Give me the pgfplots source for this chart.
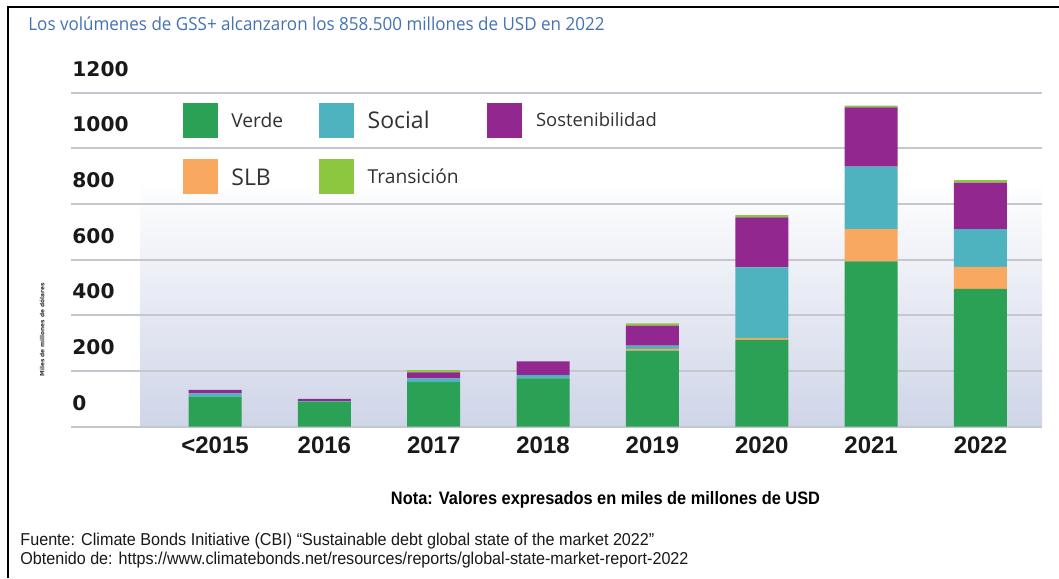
\documentclass[border=0pt]{standalone}
\usepackage{fontspec}
\setmainfont{Open Sans}
\newfontfamily\dejavu{DejaVu Sans}
\newfontfamily\lib{Liberation Sans}
\usepackage{pgfplots}
\pgfplotsset{compat=1.18}
\usepackage{pgfplotstable}
\definecolor{cverde}{RGB}{42,161,85}
\definecolor{csocial}{RGB}{79,179,191}
\definecolor{csost}{RGB}{146,39,143}
\definecolor{cslb}{RGB}{249,168,96}
\definecolor{ctrans}{RGB}{141,198,63}
\definecolor{cgrid}{RGB}{198,198,206}
\definecolor{cbg}{RGB}{207,213,232}
\definecolor{ctitle}{RGB}{68,114,180}
\definecolor{ctext}{RGB}{50,50,50}

\pgfplotstableread{
x verde slb social sost trans
0 108 0 12 12 0
1 90 0 2 8 0
2 160 0 14 21 8
3 174 0 11 50 0
4 273 7 11 72 8
5 312 6 254 180 8
6 594 116 224 213 7
7 495 79 136 167 9
}\datatable

\begin{document}
\begin{tikzpicture}
\useasboundingbox (0,0) rectangle (529.5pt,-289pt);
\fill[white] (0,0) rectangle (529.5pt,-289pt);
\shade[top color=white, bottom color=cbg] (70pt,-90pt) rectangle (521pt,-213.35pt);
\begin{axis}[
  at={(35.35pt,-213.35pt)}, anchor=south west,
  scale only axis, width=485.5pt, height=167pt,
  xmin=-1.32, xmax=7.56, ymin=0, ymax=1200,
  ybar stacked, bar width=26.5pt,
  ytick={0,200,...,1200},
  xtick={0,...,7},
  xticklabels={{<2015},2016,2017,2018,2019,2020,2021,2022},
  axis line style={draw=none},
  major tick length=0pt,
  ymajorgrids, grid style={cgrid, line width=1pt},
  /pgf/number format/assume math mode=true,
  /pgf/number format/1000 sep={},
  scaled y ticks=false,
  yticklabel style={font=\dejavu\bfseries\fontsize{10.1}{12}\selectfont, text=black!90, anchor=west, inner sep=0pt, xshift=0.65pt, yshift=12pt},
  xticklabel style={font=\lib\bfseries\fontsize{12}{14}\selectfont, text=black!90, anchor=north, inner sep=0pt, yshift=-5pt},
  clip=false,
]
\addplot[fill=cverde, draw=none] table[x=x, y=verde] {\datatable};
\addplot[fill=cslb, draw=none] table[x=x, y=slb] {\datatable};
\addplot[fill=csocial, draw=none] table[x=x, y=social] {\datatable};
\addplot[fill=csost, draw=none] table[x=x, y=sost] {\datatable};
\addplot[fill=ctrans, draw=none] table[x=x, y=trans] {\datatable};
\end{axis}
% legend
\fill[cverde] (91.35pt,-51.35pt) rectangle (109.15pt,-68.85pt);
\fill[csocial] (159.5pt,-51.35pt) rectangle (177.15pt,-68.85pt);
\fill[csost] (243.35pt,-51.35pt) rectangle (261.15pt,-68.85pt);
\fill[cslb] (91.35pt,-79.65pt) rectangle (109.15pt,-97.15pt);
\fill[ctrans] (159.5pt,-79.65pt) rectangle (177.15pt,-97.15pt);
\node[anchor=base west, inner sep=0pt, text=ctext, font=\fontsize{9.6}{11}\selectfont] at (115.5pt,-63.6pt) {Verde};
\node[anchor=base west, inner sep=0pt, text=ctext, font=\fontsize{11.5}{13}\selectfont] at (183.65pt,-64.2pt) {Social};
\node[anchor=base west, inner sep=0pt, text=ctext, font=\fontsize{9.2}{11}\selectfont] at (267.85pt,-63.4pt) {Sostenibilidad};
\node[anchor=base west, inner sep=0pt, text=ctext, font=\fontsize{11.5}{13}\selectfont] at (115.5pt,-92.5pt) {SLB};
\node[anchor=base west, inner sep=0pt, text=ctext, font=\fontsize{9.6}{11}\selectfont] at (183.65pt,-91.9pt) {Transición};
% title
\node[anchor=base west, inner sep=0pt, text=ctitle, font=\fontsize{9}{11}\selectfont] at (14pt,-15.5pt) {\resizebox{288pt}{\height}{Los volúmenes de GSS+ alcanzaron los 858.500 millones de USD en 2022}};
% y label
\node[rotate=90, inner sep=0pt, text=ctext, font=\dejavu\bfseries\fontsize{2.9}{3.5}\selectfont] at (21pt,-165pt) {Miles de millones de dólares};
% nota
\node[anchor=base, inner sep=0pt, text=black, font=\lib\bfseries\fontsize{9}{11}\selectfont] at (302.75pt,-252pt) {\resizebox{214.5pt}{\height}{Nota: Valores expresados en miles de millones de USD}};
% footer
\node[anchor=base west, inner sep=0pt, text=black!90, font=\lib\fontsize{8.6}{10}\selectfont] at (10pt,-272.8pt) {\resizebox{317pt}{\height}{Fuente: Climate Bonds Initiative (CBI) “Sustainable debt global state of the market 2022”}};
\node[anchor=base west, inner sep=0pt, text=black!90, font=\lib\fontsize{8.6}{10}\selectfont] at (10pt,-282.3pt) {\resizebox{334pt}{\height}{Obtenido de: https://www.climatebonds.net/resources/reports/global-state-market-report-2022}};
% frame
\draw[black, line width=1.25pt] (3.9pt,-289pt) -- (3.9pt,-3.4pt) -- (529.5pt,-3.4pt);
\end{tikzpicture}
\end{document}
